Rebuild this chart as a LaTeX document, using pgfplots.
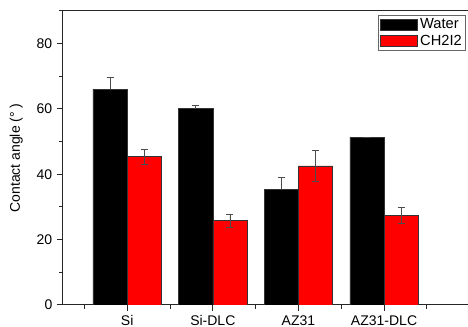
\documentclass[border=0pt]{standalone}
\usepackage{fontspec}
\setmainfont{Liberation Sans}
\usepackage{pgfplots}
\usepackage{pgfplotstable}
\pgfplotsset{compat=1.18}
\pgfplotsset{mylegend/.style={legend image code/.code={\draw[##1] (0pt,-4.1pt) rectangle (27.75pt,4.1pt);}}}
\pgfplotstableread{
xw w we xc c ce
0.8 66.1 3.7 1.2 45.4 2.3
1.8 60.1 1.1 2.2 25.8 2.0
2.8 35.4 3.7 3.2 42.6 4.8
3.8 51.4 0.0 4.2 27.4 2.5
}\datatable
\definecolor{barred}{RGB}{255,0,0}
\begin{document}
\begin{tikzpicture}
\begin{axis}[
  scale only axis, width=305pt, height=220.5pt,
  xmin=0.25, xmax=5, ymin=0, ymax=90,
  axis x line*=box, axis y line*=left,
  axis line style={line width=0.75pt, black!85},
  xtick={1,2,3,4},
  xticklabels={Si,Si-DLC,AZ31,AZ31-DLC},
  minor xtick={0.5,1.5,2.5,3.5,4.5},
  ytick={0,20,40,60,80},
  minor ytick={10,30,50,70,90},
  tick align=outside,
  xtick pos=lower, ytick pos=left,
  major tick length=4.5pt, minor tick length=3pt,
  tick style={line width=0.75pt, black!85},
  /pgf/number format/assume math mode=true,
  ticklabel style={font=\fontsize{10.5}{12}\selectfont},
  ylabel={Contact angle (°\ )},
  every axis y label/.style={at={(axis description cs:-0.115,0.5)}, rotate=90, anchor=center, font=\fontsize{10.5}{12}\selectfont},
  legend style={at={(axis description cs:0.991,0.986)}, anchor=north east,
    draw=black!60, font=\fontsize{11}{13}\selectfont, row sep=-1pt,
    inner xsep=1pt, inner ysep=0.5pt},
  legend cell align=left,
]
\addplot[ybar, bar width=0.4, bar shift=0, fill=black, draw=black!80, line width=0.4pt,
  mylegend,
  error bars/.cd, y dir=plus, y explicit,
  error bar style={gray!60!black, line width=0.5pt},
  error mark options={rotate=90, mark size=2.6pt, gray!60!black, line width=0.5pt}]
  table[x=xw, y=w, y error=we] {\datatable};
\addlegendentry{Water}
\addplot[ybar, bar width=0.4, bar shift=0, fill=barred, draw=black!80, line width=0.4pt,
  mylegend,
  error bars/.cd, y dir=both, y explicit,
  error bar style={gray!60!black, line width=0.5pt},
  error mark options={rotate=90, mark size=2.6pt, gray!60!black, line width=0.5pt}]
  table[x=xc, y=c, y error=ce] {\datatable};
\addlegendentry{CH2I2}
\end{axis}
\pgfresetboundingbox
\useasboundingbox (-47.25pt,-16.5pt) rectangle (303.75pt,228.75pt);
\end{tikzpicture}
\end{document}
